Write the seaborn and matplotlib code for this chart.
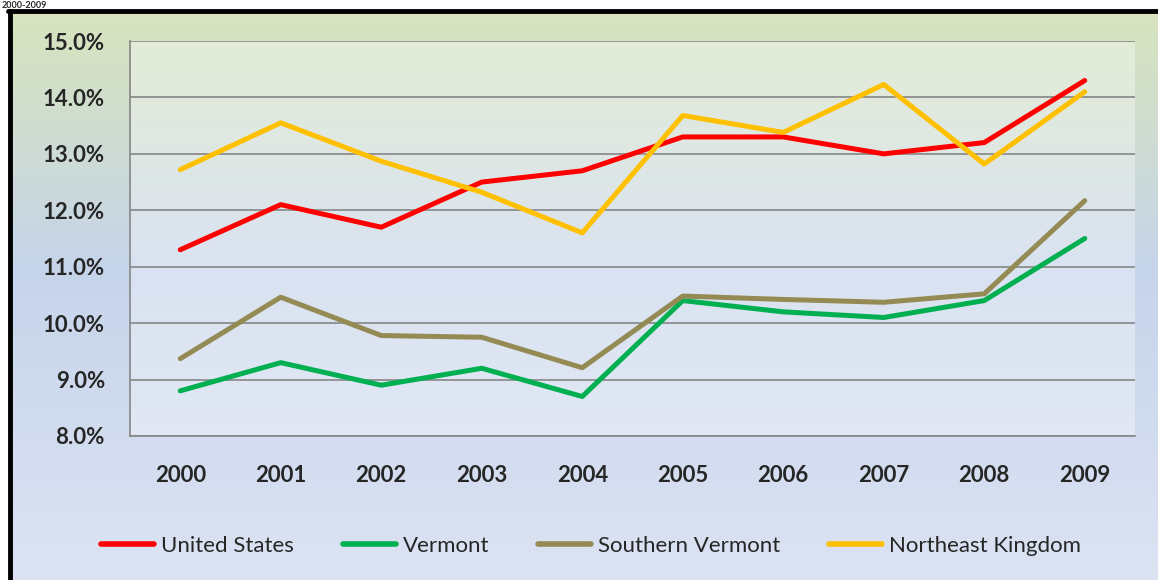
import numpy as np
import pandas as pd
import matplotlib
matplotlib.use("Agg")
import matplotlib.pyplot as plt
from matplotlib.colors import LinearSegmentedColormap
from matplotlib.lines import Line2D
import seaborn as sns

years = ["2000", "2001", "2002", "2003", "2004", "2005", "2006", "2007", "2008", "2009"]
united_states = [11.3, 12.1, 11.7, 12.5, 12.7, 13.3, 13.3, 13.0, 13.2, 14.3]
vermont = [8.8, 9.3, 8.9, 9.2, 8.7, 10.4, 10.2, 10.1, 10.4, 11.5]
southern_vermont = [9.37, 10.46, 9.78, 9.75, 9.21, 10.48, 10.42, 10.37, 10.52, 12.17]
northeast_kingdom = [12.72, 13.55, 12.87, 12.32, 11.6, 13.68, 13.38, 14.23, 12.82, 14.1]

series_names = ["United States", "Vermont", "Southern Vermont", "Northeast Kingdom"]
colors = ["#FF0000", "#00B050", "#948A54", "#FFC000"]

df = pd.DataFrame({
    "pos": list(range(len(years))) * 4,
    "value": united_states + vermont + southern_vermont + northeast_kingdom,
    "series": [s for s in series_names for _ in years],
})

sns.set_style("white")
plt.rcParams["font.family"] = ["Lato", "DejaVu Sans"]

fig = plt.figure(figsize=(11.58, 5.8), dpi=100)
fig.patch.set_facecolor("white")

# chart background gradient inside the black frame
bg = fig.add_axes([12 / 1158, 0, 1 - 12 / 1158, 1 - 13 / 580])
bg.set_axis_off()
grad_cmap = LinearSegmentedColormap.from_list(
    "bg", [(0, "#D7E4BD"), (0.45, "#C6D4EA"), (1.0, "#DCE3F3")])
bg.imshow(np.linspace(0, 1, 256).reshape(-1, 1), aspect="auto", cmap=grad_cmap,
          extent=[0, 1, 0, 1])
bg.set_xlim(0, 1)
bg.set_ylim(0, 1)

# black frame (left and top visible)
fig.add_artist(Line2D([10 / 1158, 10 / 1158], [0, 1 - 11 / 580], color="black", lw=3.5,
                      transform=fig.transFigure))
fig.add_artist(Line2D([8.3 / 1158, 1], [1 - 11 / 580, 1 - 11 / 580], color="black", lw=3.5,
                      transform=fig.transFigure))

fig.text(2 / 1158, 1 - 0.5 / 580, "2000-2009", fontsize=6.5, fontweight="bold",
         va="top", ha="left")

ax = fig.add_axes([130 / 1158, 1 - 436 / 580, (1135 - 130) / 1158, (436 - 41) / 580])
ax.patch.set_facecolor("white")
ax.patch.set_alpha(0.35)

sns.lineplot(data=df, x="pos", y="value", hue="series", palette=colors,
             hue_order=series_names, linewidth=3.6, ax=ax, legend=False, zorder=3)
for ln in ax.lines:
    ln.set_solid_capstyle("round")

ax.set_ylim(8, 15)
ax.set_xlim(-0.5, len(years) - 0.5)
ax.set_yticks(np.arange(8, 15.01, 1))
ax.set_yticklabels([f"{v:.1f}%" for v in np.arange(8, 15.01, 1)])
ax.yaxis.grid(True, color="#868686", lw=1.2)
ax.set_axisbelow(True)

ax.set_xticks(range(len(years)))
ax.set_xticklabels(years)
ax.set_xticks(np.arange(-0.5, len(years)), minor=True)
ax.tick_params(axis="x", which="major", length=0, pad=21, labelsize=16)
ax.tick_params(axis="x", which="minor", length=7, width=1.2, color="#868686")
ax.tick_params(axis="y", length=7, width=1.2, color="#868686", labelsize=16, pad=11)
for lab in ax.get_xticklabels() + ax.get_yticklabels():
    lab.set_fontweight("bold")

for side in ["top", "right"]:
    ax.spines[side].set_visible(False)
for side in ["left", "bottom"]:
    ax.spines[side].set_color("#868686")
    ax.spines[side].set_linewidth(1.2)
ax.set_xlabel("")
ax.set_ylabel("")

handles = [Line2D([0], [0], color=c, lw=4, solid_capstyle="round") for c in colors]
fig.legend(handles, series_names, loc="center", bbox_to_anchor=(591 / 1158, 1 - 546 / 580),
           ncol=4, frameon=False, fontsize=16, handlelength=2.4, handletextpad=0.3,
           columnspacing=2.2)

fig.savefig("out.png", dpi=100)
